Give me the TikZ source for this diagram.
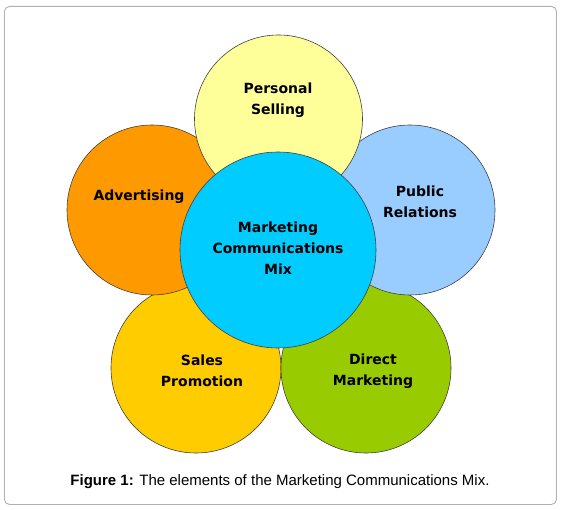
\documentclass[tikz,border=0pt]{standalone}
\usepackage{fontspec}
\setmainfont{DejaVu Sans}
\newfontfamily\capfont{Liberation Sans}
\definecolor{cPers}{HTML}{FFFF99}
\definecolor{cAdv}{HTML}{FF9900}
\definecolor{cPub}{HTML}{99CCFF}
\definecolor{cSales}{HTML}{FFCC00}
\definecolor{cDir}{HTML}{99CC00}
\definecolor{cMix}{HTML}{00CCFF}
\definecolor{cFrame}{HTML}{B0B0B0}
\begin{document}
\begin{tikzpicture}[x=1pt,y=-1pt,
  elem/.style={circle,draw=black!75,line width=0.6pt,inner sep=0pt},
  lab/.style={align=center,font=\bfseries\fontsize{14}{21}\selectfont,text=black}]
\useasboundingbox (0,0) rectangle (562,510);
\node[draw=cFrame,line width=0.9pt,rounded corners=5pt,minimum width=552pt,minimum height=498pt,anchor=north west] (frame) at (4,6) {};
% circles (stacking order)
\node[elem,fill=cSales,minimum size=170pt] (sales) at (196,368) {};
\node[elem,fill=cDir,minimum size=170pt] (dir) at (366,368) {};
\node[elem,fill=cAdv,minimum size=170pt] (adv) at (152,210) {};
\node[elem,fill=cPub,minimum size=170pt] (pub) at (410,210) {};
\node[elem,fill=cPers,minimum size=168pt] (pers) at (278.5,119) {};
\node[elem,fill=cMix,minimum size=196pt] (mix) at (278,250) {};
% labels
\node[lab] (tPers) at (278,100) {Personal\\Selling};
\node[lab] (tAdv) at (139,197) {Advertising};
\node[lab] (tPub) at (420,202) {Public\\Relations};
\node[lab] (tMix) at (278,248) {Marketing\\Communications\\Mix};
\node[lab] (tSales) at (202,371) {Sales\\Promotion};
\node[lab] (tDir) at (373,371) {Direct\\Marketing};
\node[font=\capfont\fontsize{15}{17}\selectfont] (cap) at (280,482) {\textbf{Figure 1:} The elements of the Marketing Communications Mix.};
\end{tikzpicture}
\end{document}
